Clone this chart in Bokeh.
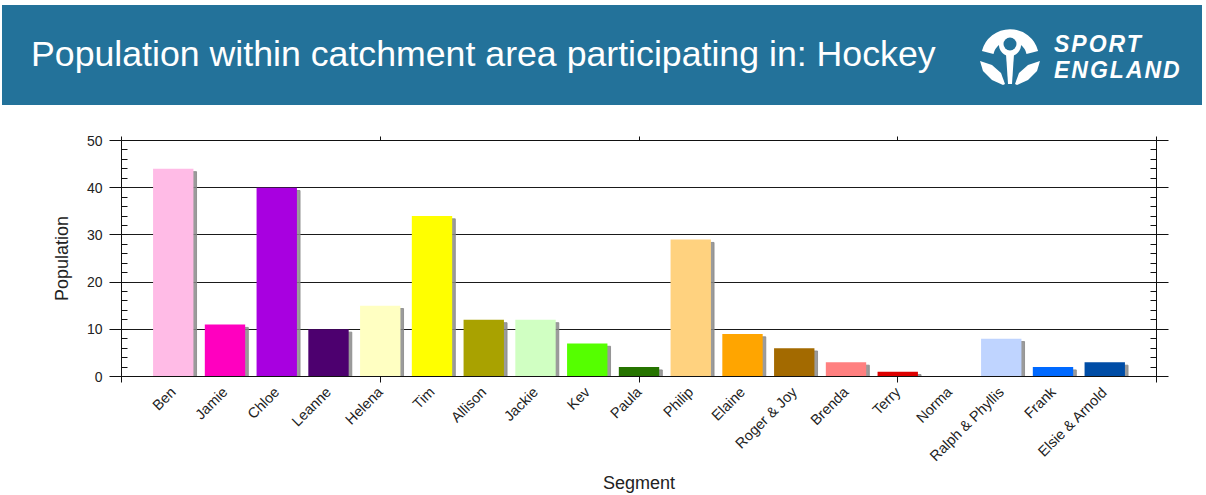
import math
from bokeh.plotting import figure
from bokeh.layouts import column
from bokeh.models import (LinearAxis, FixedTicker, Range1d, ColumnDataSource, Grid, Div,
                          CustomJSTickFormatter)
from bokeh.embed import file_html
from bokeh.resources import INLINE

# ---------------- data ----------------
segments = ["Ben", "Jamie", "Chloe", "Leanne", "Helena", "Tim", "Allison", "Jackie",
            "Kev", "Paula", "Philip", "Elaine", "Roger & Joy", "Brenda", "Terry",
            "Norma", "Ralph & Phyllis", "Frank", "Elsie & Arnold"]
population = [44, 11, 40, 10, 15, 34, 12, 12, 7, 2, 29, 9, 6, 3, 1, 0, 8, 2, 3]
bar_colors = ["#FFBBE6", "#FF00BF", "#A800E0", "#4D006F", "#FFFFC2", "#FFFF00",
              "#A9A200", "#D0FFC2", "#55FF00", "#267400", "#FFD27F", "#FFA500",
              "#A36A00", "#FF8080", "#DD0000", "#FFFFFF", "#BFD4FF", "#0069FF",
              "#004DA6"]
y_ticks = [0, 10, 20, 30, 40, 50]
title_text = "Population within catchment area participating in: Hockey"

FONT = "Liberation Sans"
BANNER = "#23729a"
W = 1195

# ---------------- header banner (HTML + inline SVG logo) ----------------
lx = 1008  # logo centre x inside banner
leaf_l = [(978, 56), (990, 60), (999, 68), (1003, 79), (1001, 80), (990, 75), (981, 66)]
leaf_r = [(2 * lx - x, y) for x, y in leaf_l]
pts = lambda L: " ".join(f"{x},{y}" for x, y in L)
svg = f'''<svg width="1200" height="100" style="position:absolute;left:0;top:0">
<path d="M979.9,46 A29,29 0 0 1 1036.1,46 L1024.5,48.9 A17,17 0 0 0 991.5,48.9 Z" fill="white"/>
<circle cx="{lx}" cy="40" r="11" fill="white"/>
<circle cx="{lx}" cy="39" r="6.5" fill="{BANNER}"/>
<polygon points="{lx-4},49 {lx+4},49 {lx+2},79 {lx-2},79" fill="white"/>
<polygon points="{pts(leaf_l)}" fill="white"/>
<polygon points="{pts(leaf_r)}" fill="white"/>
</svg>'''
html = (f'<div style="position:relative;width:1200px;height:100px;background:{BANNER};'
        f'overflow:hidden">'
        f'<span style="position:absolute;left:29px;top:32px;color:white;'
        f'font-family:\'{FONT}\';font-size:35.7px;line-height:1;white-space:nowrap">'
        f'{title_text}</span>{svg}'
        f'<div style="position:absolute;left:1052px;top:25.5px;color:white;'
        f'font-family:\'{FONT}\';font-weight:bold;font-style:italic;font-size:23px;'
        f'letter-spacing:2px;line-height:26px;white-space:nowrap">SPORT<br>ENGLAND</div></div>')
hdr = Div(text=html, width=1200, height=100, margin=0)

# ---------------- chart ----------------
n = len(segments)
positions = list(range(1, n + 1))
shadow_x = [x + 0.06 for x in positions]
shadow_top = [max(v - 0.6, 0) for v in population]
src = ColumnDataSource(dict(x=positions, top=population, color=bar_colors,
                            sx=shadow_x, stop=shadow_top))

p = figure(width=W, height=390, x_range=Range1d(0, n + 1), y_range=Range1d(0, 50),
           x_axis_location=None, y_axis_location=None, toolbar_location=None,
           output_backend="svg", min_border_left=119, min_border_right=41,
           min_border_top=35, min_border_bottom=119, outline_line_color=None, margin=0)
p.grid.visible = False

yticker = FixedTicker(ticks=y_ticks, minor_ticks=list(range(0, 51, 2)))
p.add_layout(Grid(dimension=1, ticker=yticker, grid_line_color="#1a1a1a",
                  grid_line_width=1))

p.vbar(x="sx", top="stop", width=0.78, source=src, color="#8a8a8a", alpha=0.85)
p.vbar(x="x", top="top", width=0.78, source=src, fill_color="color", line_color=None)

AX = "#111111"
blank = CustomJSTickFormatter(code="return ''")

def style_y(ax, labels):
    ax.axis_line_color = AX
    ax.major_tick_line_color = AX
    ax.minor_tick_line_color = AX
    ax.major_tick_out = 12
    ax.major_tick_in = 0
    ax.minor_tick_out = 0
    ax.minor_tick_in = 6
    if labels:
        ax.major_label_text_font = FONT
        ax.major_label_text_font_size = "14px"
        ax.major_label_text_color = "#222222"
        ax.major_label_standoff = 7
    else:
        ax.formatter = blank
        ax.major_label_standoff = 0

yl = LinearAxis(ticker=yticker, axis_label="Population", axis_label_text_font=FONT,
                axis_label_text_font_size="18px", axis_label_text_font_style="normal",
                axis_label_text_color="#222222", axis_label_standoff=12)
style_y(yl, True)
p.add_layout(yl, "left")
yr = LinearAxis(ticker=yticker)
style_y(yr, False)
p.add_layout(yr, "right")

xtick = FixedTicker(ticks=[0, 5, 10, 15, 20])
xb = LinearAxis(ticker=xtick, axis_line_color=AX, major_tick_line_color=AX,
                major_tick_out=6, major_tick_in=0, formatter=blank,
                major_label_standoff=0)
p.add_layout(xb, "below")
xt = LinearAxis(ticker=xtick, axis_line_color=AX, major_tick_line_color=AX,
                major_tick_out=4, major_tick_in=0, formatter=blank,
                major_label_standoff=0)
p.add_layout(xt, "above")

xl = LinearAxis(ticker=FixedTicker(ticks=positions),
                major_label_overrides={x: s for x, s in zip(positions, segments)},
                axis_line_color=None, major_tick_line_color=None,
                minor_tick_line_color=None, major_label_orientation=math.pi / 4,
                major_label_text_font=FONT, major_label_text_font_size="14.5px",
                major_label_text_color="#222222", major_label_standoff=1,
                axis_label="Segment", axis_label_text_font=FONT,
                axis_label_text_font_size="18px", axis_label_text_font_style="normal",
                axis_label_text_color="#222222", axis_label_standoff=0)
p.add_layout(xl, "below")

layout = column(hdr, p, spacing=0, margin=(5, 0, 0, 2))

open("out.html", "w").write(file_html(layout, INLINE))
